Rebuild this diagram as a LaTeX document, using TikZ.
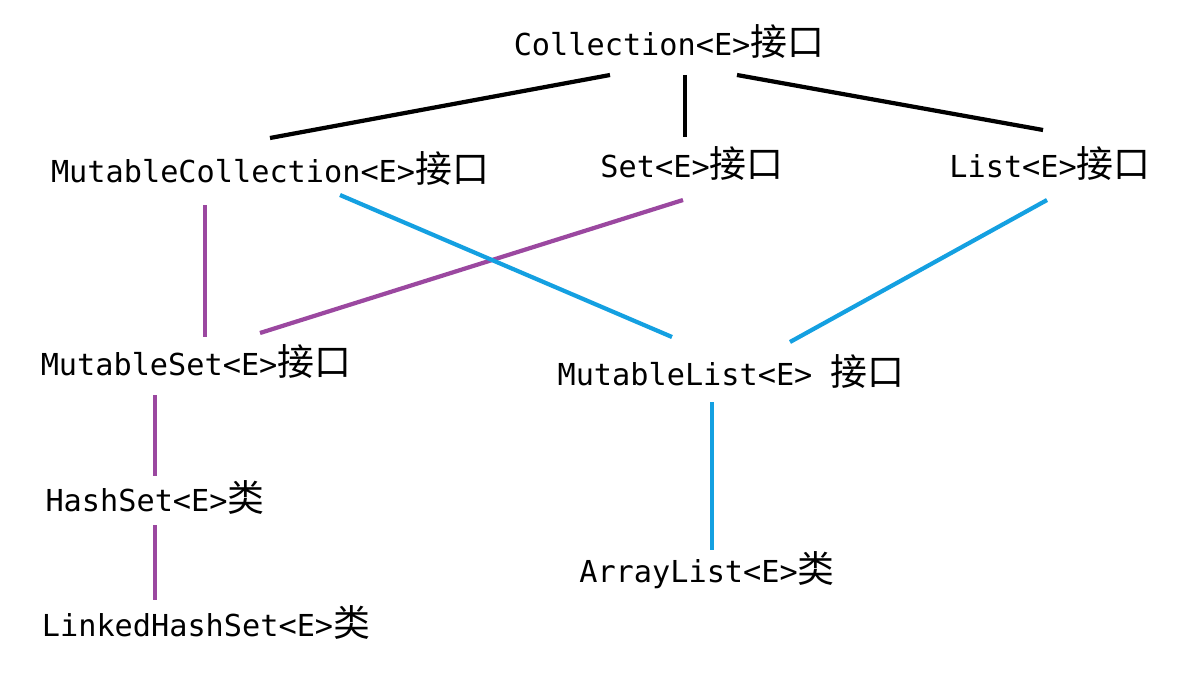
\documentclass[tikz,border=0pt]{standalone}
\usepackage{fontspec}
\setmainfont{DejaVu Sans Mono}
\newfontfamily\cjk[Scale=1.22]{Noto Sans CJK SC}
\definecolor{ifpurple}{RGB}{155,72,160}
\definecolor{ifblue}{RGB}{20,160,225}
\begin{document}
\begin{tikzpicture}[x=0.01cm,y=-0.01cm]
    \tikzset{typ/.style={inner sep=0pt, yshift=0.03cm, font=\fontsize{8.6}{10}\selectfont},
        tree/.style={line width=1.2pt},
        %     % Farben der Zweige
        zset/.style={tree, draw=ifpurple},
        zlist/.style={tree, draw=ifblue}}
    \useasboundingbox (0,0) rectangle (1183,673);

    %Schnittstellen
    \node[typ] (coll)  at (669,45)  {Collection<E>{\cjk 接口}};
    \node[typ] (mcoll) at (270,172) {MutableCollection<E>{\cjk 接口}};
    \node[typ] (set)   at (692,167) {Set<E>{\cjk 接口}};
    \node[typ] (list)  at (1050,167) {List<E>{\cjk 接口}};
    \node[typ] (mset)  at (196,365) {MutableSet<E>{\cjk 接口}};
    \node[typ] (mlist) at (731,375) {MutableList<E> {\cjk 接口}};

    %Klassen
    \node[typ] (hset)  at (155,500) {HashSet<E>{\cjk 类}};
    \node[typ] (lhset) at (206,625) {LinkedHashSet<E>{\cjk 类}};
    \node[typ] (alist) at (707,573) {ArrayList<E>{\cjk 类}};

    %Oben
    \draw[tree] ([shift={(-59,33)}]coll.center) -- ([shift={(0,-31)}]mcoll.center);
    \draw[tree] ([shift={(16,33)}]coll.center)  -- ([shift={(-7,-27)}]set.center);
    \draw[tree] ([shift={(68,33)}]coll.center)  -- ([shift={(-7,-34)}]list.center);

    %Set-Zweig
    \draw[zset] ([shift={(-65,36)}]mcoll.center) -- ([shift={(9,-25)}]mset.center);
    \draw[zset] ([shift={(-9,36)}]set.center)    -- ([shift={(64,-29)}]mset.center);
    \draw[zset] ([shift={(-41,33)}]mset.center)  -- ([shift={(0,-21)}]hset.center);
    \draw[zset] ([shift={(0,28)}]hset.center)    -- ([shift={(-51,-22)}]lhset.center);

    %List-Zweig
    \draw[zlist] ([shift={(70,26)}]mcoll.center) -- ([shift={(-59,-35)}]mlist.center);
    \draw[zlist] ([shift={(-3,36)}]list.center)  -- ([shift={(59,-30)}]mlist.center);
    \draw[zlist] ([shift={(-19,30)}]mlist.center) -- ([shift={(5,-20)}]alist.center);

\end{tikzpicture}
\end{document}
